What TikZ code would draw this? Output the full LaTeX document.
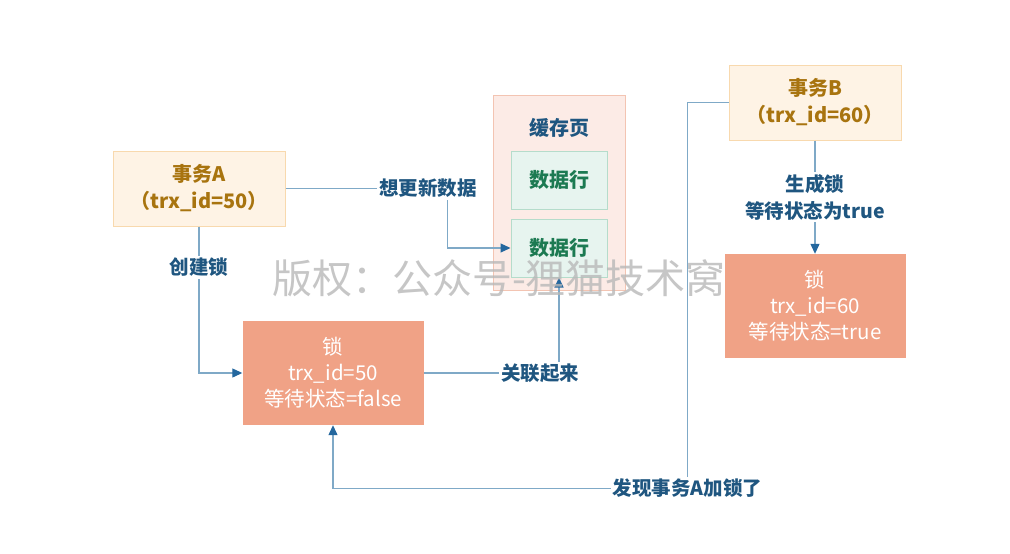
\documentclass[tikz,border=0pt]{standalone}
\usepackage{fontspec}
\setmainfont{Noto Sans CJK SC}
\usetikzlibrary{arrows.meta, positioning}
\definecolor{txfill}{HTML}{FEF3E5}
\definecolor{txline}{HTML}{F8D9AE}
\definecolor{txtext}{HTML}{A8740F}
\definecolor{pagefill}{HTML}{FCEBE6}
\definecolor{pageline}{HTML}{F3C4B2}
\definecolor{rowfill}{HTML}{E7F4EF}
\definecolor{rowline}{HTML}{B5DCCB}
\definecolor{rowtext}{HTML}{1C7A52}
\definecolor{lockfill}{HTML}{F0A286}
\definecolor{wireblue}{HTML}{7FA9C7}
\definecolor{tipblue}{HTML}{24679E}
\definecolor{lbltext}{HTML}{1F5680}
\definecolor{wmgray}{HTML}{B8B8B8}

\begin{document}
\begin{tikzpicture}[
    x=1pt, y=-1pt,
    txbox/.style={
        rectangle, draw=txline, line width=1pt, fill=txfill,
        minimum width=172pt, minimum height=75pt, inner sep=0pt,
        font=\fontsize{20}{27}\selectfont\bfseries, text=txtext, align=center
    },
    lockbox/.style={
        rectangle, fill=lockfill, minimum width=181pt, minimum height=104pt,
        inner sep=0pt, font=\fontsize{20.5}{26}\selectfont, text=white, align=center
    },
    pagebox/.style={
        rectangle, draw=pageline, line width=1pt, fill=pagefill,
        minimum width=132pt, minimum height=195pt, inner sep=0pt
    },
    rowbox/.style={
        rectangle, draw=rowline, line width=1pt, fill=rowfill,
        minimum width=96pt, minimum height=58pt, inner sep=0pt,
        font=\fontsize{20}{22}\selectfont\bfseries, text=rowtext
    },
    conn/.style={draw=wireblue, line width=1.2pt,
        -{Triangle[length=10pt, width=9pt, color=tipblue]}},
    lbl/.style={font=\fontsize{19.5}{27}\selectfont\bfseries, align=center,
        text=lbltext, fill=white, inner sep=2pt},
    wm/.style={font=\fontsize{40}{44}\selectfont, text=wmgray, opacity=0.8},
]
\useasboundingbox (0,0) rectangle (1010,554);

% Nodes
\node[txbox] (txA) at (199,188.5) {事务A\\（trx\_id=50）};
\node[txbox] (txB) at (815,102.5) {事务B\\（trx\_id=60）};
\node[pagebox] (page) at (559,192.5) {};
\node[font=\fontsize{20}{22}\selectfont\bfseries, text=lbltext] (pagetitle) at (559,128) {缓存页};
\node[rowbox] (row1) at (559,180) {数据行};
\node[rowbox, below=9pt of row1] (row2) {数据行};
\node[lockbox] (lockA) at (333,373) {锁\\trx\_id=50\\等待状态=false};
\node[lockbox] (lockB) at (815,306) {锁\\trx\_id=60\\等待状态=true};

% Transaction A
\draw[conn] (txA.east) -- node[lbl, pos=0.88] {想更新数据} ++(162,0) |- (row2.west);
\draw[conn] (txA.south) |- node[lbl, pos=0.14] {创建锁} (lockA.west);
\draw[conn] (lockA.east) -| node[lbl, pos=0.43] {关联起来} (row2.south);

% Transaction B
\draw[conn] (txB.south) -- node[lbl] {生成锁\\等待状态为true} (lockB.north);
\draw[conn] (txB.west) -- ++(-41,0) -- ++(0,386) node[lbl] {发现事务A加锁了} -| (lockA.south);

% Watermark
\node[wm] (wmark) at (499,278) {版权：公众号-狸猫技术窝};

\end{tikzpicture}
\end{document}
